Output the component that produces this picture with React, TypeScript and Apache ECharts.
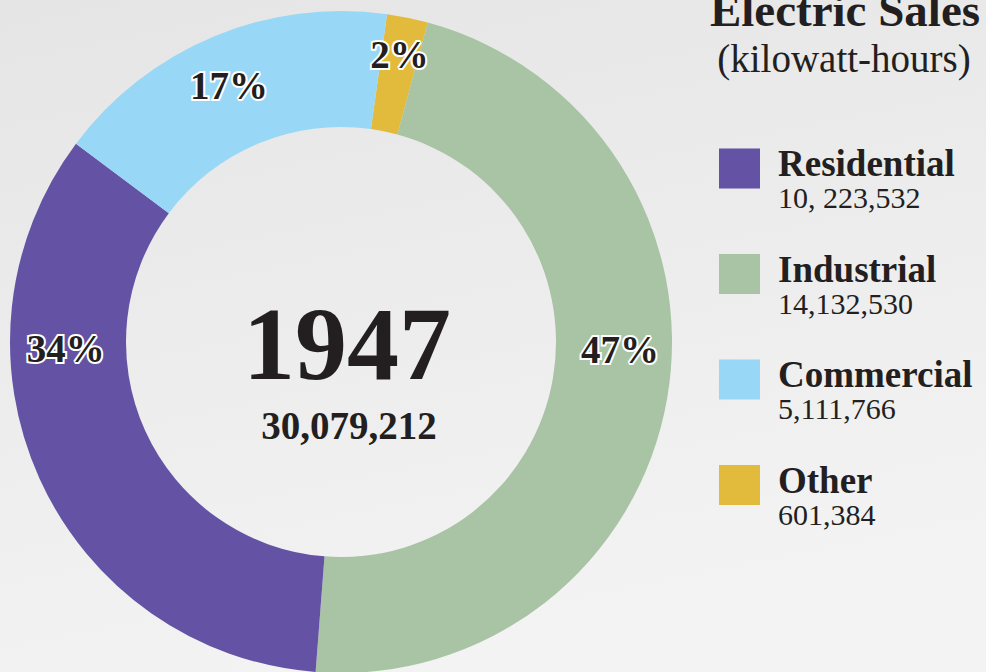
import React, { useEffect, useRef } from "react";
import * as echarts from "echarts";

const categories = ["Other", "Industrial", "Residential", "Commercial"];
const values = [601384, 14132530, 10223532, 5111766];
const valueLabels = ["601,384", "14,132,530", "10, 223,532", "5,111,766"];
const colors = ["#e3bb3c", "#a8c4a4", "#6453a4", "#98d8f6"];
const legendOrder = ["Residential", "Industrial", "Commercial", "Other"];
const yearLabel = "1947";
const totalLabel = "30,079,212";
const titleLine1 = "Electric Sales";
const titleLine2 = "(kilowatt-hours)";

const SERIF = "'Liberation Serif', 'DejaVu Serif', serif";
const INK = "#231f20";

// label nudges relative to the library's inside position (layout, not data)
const labelNudge: Record<string, [number, number]> = {
  Other: [3, -17],
  Industrial: [7, -39],
  Residential: [-24, -108],
  Commercial: [-6, -2],
};

export default function App() {
  const ref = useRef<HTMLDivElement>(null);
  useEffect(() => {
    if (!ref.current) return;
    const chart = echarts.init(ref.current, undefined, { renderer: "svg" });
    chart.setOption({
      animation: false,
      backgroundColor: {
        type: "linear",
        x: 0,
        y: 0,
        x2: 0.3,
        y2: 1,
        colorStops: [
          { offset: 0, color: "#e5e5e5" },
          { offset: 1, color: "#f3f3f3" },
        ],
      },
      legend: {
        orient: "vertical",
        left: 719,
        top: 145,
        padding: 0,
        itemWidth: 41,
        itemHeight: 40,
        itemGap: 38,
        icon: "rect",
        data: legendOrder,
        formatter: (name: string) => {
          const i = categories.indexOf(name);
          return `{n|${name}}\n{v|${valueLabels[i]}}`;
        },
        textStyle: {
          rich: {
            n: {
              fontFamily: SERIF,
              fontSize: 37,
              fontWeight: "bold",
              color: INK,
              lineHeight: 58,
              padding: [0, 0, 0, 13],
            },
            v: {
              fontFamily: SERIF,
              fontSize: 30,
              color: INK,
              lineHeight: 10,
              padding: [0, 0, 0, 13],
            },
          },
        },
      },
      graphic: [
        {
          type: "text",
          x: 845,
          y: 10,
          style: {
            text: titleLine1,
            fontFamily: SERIF,
            fontSize: 47,
            fontWeight: "bold",
            fill: INK,
            align: "center",
            verticalAlign: "middle",
          },
        },
        {
          type: "text",
          x: 844,
          y: 58,
          style: {
            text: titleLine2,
            fontFamily: SERIF,
            fontSize: 39,
            fill: INK,
            align: "center",
            verticalAlign: "middle",
          },
        },
        {
          type: "text",
          x: 347,
          y: 343,
          style: {
            text: yearLabel,
            fontFamily: SERIF,
            fontSize: 104,
            fontWeight: "bold",
            fill: INK,
            align: "center",
            verticalAlign: "middle",
          },
        },
        {
          type: "text",
          x: 349,
          y: 425,
          style: {
            text: totalLabel,
            fontFamily: SERIF,
            fontSize: 39,
            fontWeight: "bold",
            fill: INK,
            align: "center",
            verticalAlign: "middle",
          },
        },
      ],
      series: [
        {
          type: "pie",
          center: [341, 342],
          radius: [215, 331],
          startAngle: 82,
          clockwise: true,
          avoidLabelOverlap: false,
          percentPrecision: 0,
          data: categories.map((c, i) => ({
            name: c,
            value: values[i],
            itemStyle: { color: colors[i] },
          })),
          label: {
            show: true,
            position: "inside",
            formatter: "{d}%",
            fontFamily: SERIF,
            fontSize: 39,
            fontWeight: "bold",
            color: INK,
            textBorderColor: "#ffffff",
            textBorderWidth: 4,
          },
          labelLayout: (p: any) => {
            const n = labelNudge[categories[p.dataIndex]] || [0, 0];
            return { dx: n[0], dy: n[1] };
          },
          labelLine: { show: false },
          emphasis: { disabled: true },
        },
      ],
    });
    return () => chart.dispose();
  }, []);
  return (
    <div
      ref={ref}
      style={{ position: "fixed", left: 0, top: 0, width: 986, height: 672 }}
    />
  );
}
